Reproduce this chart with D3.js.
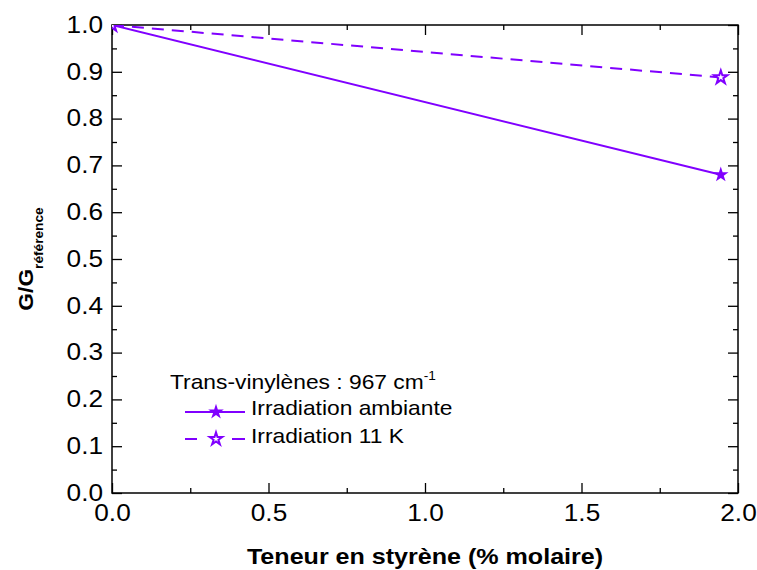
<!DOCTYPE html>
<html>
<head>
<meta charset="utf-8">
<script src="https://cdn.jsdelivr.net/npm/d3@7"></script>
<style>
  body { margin: 0; background: #fff; }
  text { font-family: "Liberation Sans", Arial, sans-serif; }
</style>
</head>
<body>
<div id="chart"></div>
<script>
const width = 757;
const height = 570;
const marginLeft = 112;
const marginRight = 19;
const marginTop = 25;
const marginBottom = 77;
const k = 1.14; // horizontal stretch of the text in the original picture

// data
const ambiante = [[0, 1.0], [1.945, 0.68]];
const froid = [[0, 1.0], [1.945, 0.888]];
const xTicks = [0, 0.5, 1.0, 1.5, 2.0];
const yTicks = [0, 0.1, 0.2, 0.3, 0.4, 0.5, 0.6, 0.7, 0.8, 0.9, 1.0];
const color = "#8000ff";

const svg = d3.select("#chart").append("svg")
    .attr("width", width)
    .attr("height", height);

const x = d3.scaleLinear().domain([0, 2]).range([marginLeft, width - marginRight]);
const y = d3.scaleLinear().domain([0, 1]).range([height - marginBottom, marginTop]);

const minorX = d3.range(0.25, 2, 0.5);
const minorY = d3.range(0.05, 1, 0.1);

// axes, ticks inward
function axisGroup(axis, tx, ty) {
    const g = svg.append("g").attr("transform", `translate(${tx},${ty})`).call(axis);
    g.select(".domain").remove();
    g.selectAll("line").attr("stroke", "#000").attr("stroke-width", 1.3);
    g.selectAll("text").attr("font-size", 23).attr("fill", "#000");
    return g;
}

axisGroup(d3.axisBottom(x).tickValues(xTicks).tickFormat(d3.format(".1f")).tickSizeInner(-10).tickPadding(12), 0, y(0))
    .selectAll("text").attr("transform", `scale(${k},1)`);
axisGroup(d3.axisBottom(x).tickValues(minorX).tickFormat("").tickSizeInner(-5), 0, y(0));
axisGroup(d3.axisTop(x).tickValues(xTicks).tickFormat("").tickSizeInner(-10), 0, y(1));
axisGroup(d3.axisTop(x).tickValues(minorX).tickFormat("").tickSizeInner(-5), 0, y(1));
axisGroup(d3.axisLeft(y).tickValues(yTicks).tickFormat(d3.format(".1f")).tickSizeInner(-10).tickPadding(9), x(0), 0)
    .selectAll("text").attr("x", -9 / k).attr("transform", `scale(${k},1)`);
axisGroup(d3.axisLeft(y).tickValues(minorY).tickFormat("").tickSizeInner(-5), x(0), 0);
axisGroup(d3.axisRight(y).tickValues(yTicks).tickFormat("").tickSizeInner(-10), x(2), 0);
axisGroup(d3.axisRight(y).tickValues(minorY).tickFormat("").tickSizeInner(-5), x(2), 0);

svg.append("rect")
    .attr("x", x(0)).attr("y", y(1))
    .attr("width", x(2) - x(0)).attr("height", y(0) - y(1))
    .attr("fill", "none").attr("stroke", "#000").attr("stroke-width", 1.5);

svg.append("clipPath").attr("id", "clip").append("rect")
    .attr("x", x(0)).attr("y", y(1))
    .attr("width", x(2) - x(0)).attr("height", y(0) - y(1));
const plot = svg.append("g").attr("clip-path", "url(#clip)");

// lines
const line = d3.line().x(d => x(d[0])).y(d => y(d[1]));
plot.append("path").datum(ambiante).attr("d", line)
    .attr("fill", "none").attr("stroke", color).attr("stroke-width", 2);
plot.append("path").datum(froid).attr("d", line)
    .attr("fill", "none").attr("stroke", color).attr("stroke-width", 2)
    .attr("stroke-dasharray", "12,8");

const star = d3.symbol().type(d3.symbolStar);
plot.selectAll(".s1").data(ambiante).join("path")
    .attr("transform", d => `translate(${x(d[0])},${y(d[1])})`)
    .attr("d", star.size(75)()).attr("fill", color);
plot.selectAll(".s2").data(froid).join("path")
    .attr("transform", d => `translate(${x(d[0])},${y(d[1])})`)
    .attr("d", star.size(55)()).attr("fill", "#fff").attr("stroke", color).attr("stroke-width", 2);

// legend
function stretchedText(px, py, size) {
    return svg.append("g").attr("transform", `translate(${px},${py}) scale(${k},1)`)
        .append("text").attr("font-size", size).attr("fill", "#000");
}
const lt = stretchedText(170, 389, 20).text("Trans-vinylènes : 967 cm");
lt.append("tspan").attr("dy", -9).attr("font-size", 12).text("-1");

svg.append("line").attr("x1", 185).attr("x2", 245).attr("y1", 412).attr("y2", 412)
    .attr("stroke", color).attr("stroke-width", 2);
svg.append("path").attr("transform", "translate(216,412)").attr("d", star.size(75)()).attr("fill", color);
stretchedText(251, 415, 20).text("Irradiation ambiante");

svg.append("line").attr("x1", 185).attr("x2", 245).attr("y1", 439).attr("y2", 439)
    .attr("stroke", color).attr("stroke-width", 2).attr("stroke-dasharray", "12,35,13");
svg.append("path").attr("transform", "translate(216,439)").attr("d", star.size(50)())
    .attr("fill", "#fff").attr("stroke", color).attr("stroke-width", 2);
stretchedText(251, 443, 20).text("Irradiation 11 K");

// axis titles
stretchedText((x(0) + x(2)) / 2, 564, 22)
    .attr("text-anchor", "middle").attr("font-weight", "bold")
    .text("Teneur en styrène (% molaire)");

const yl = svg.append("text")
    .attr("transform", `translate(33,${(y(0) + y(1)) / 2}) rotate(-90) scale(${k},1)`)
    .attr("text-anchor", "middle").attr("font-size", 20).attr("font-weight", "bold");
yl.append("tspan").text("G/G");
yl.append("tspan").attr("dy", 10).attr("font-size", 12).text("référence");
</script>
</body>
</html>
